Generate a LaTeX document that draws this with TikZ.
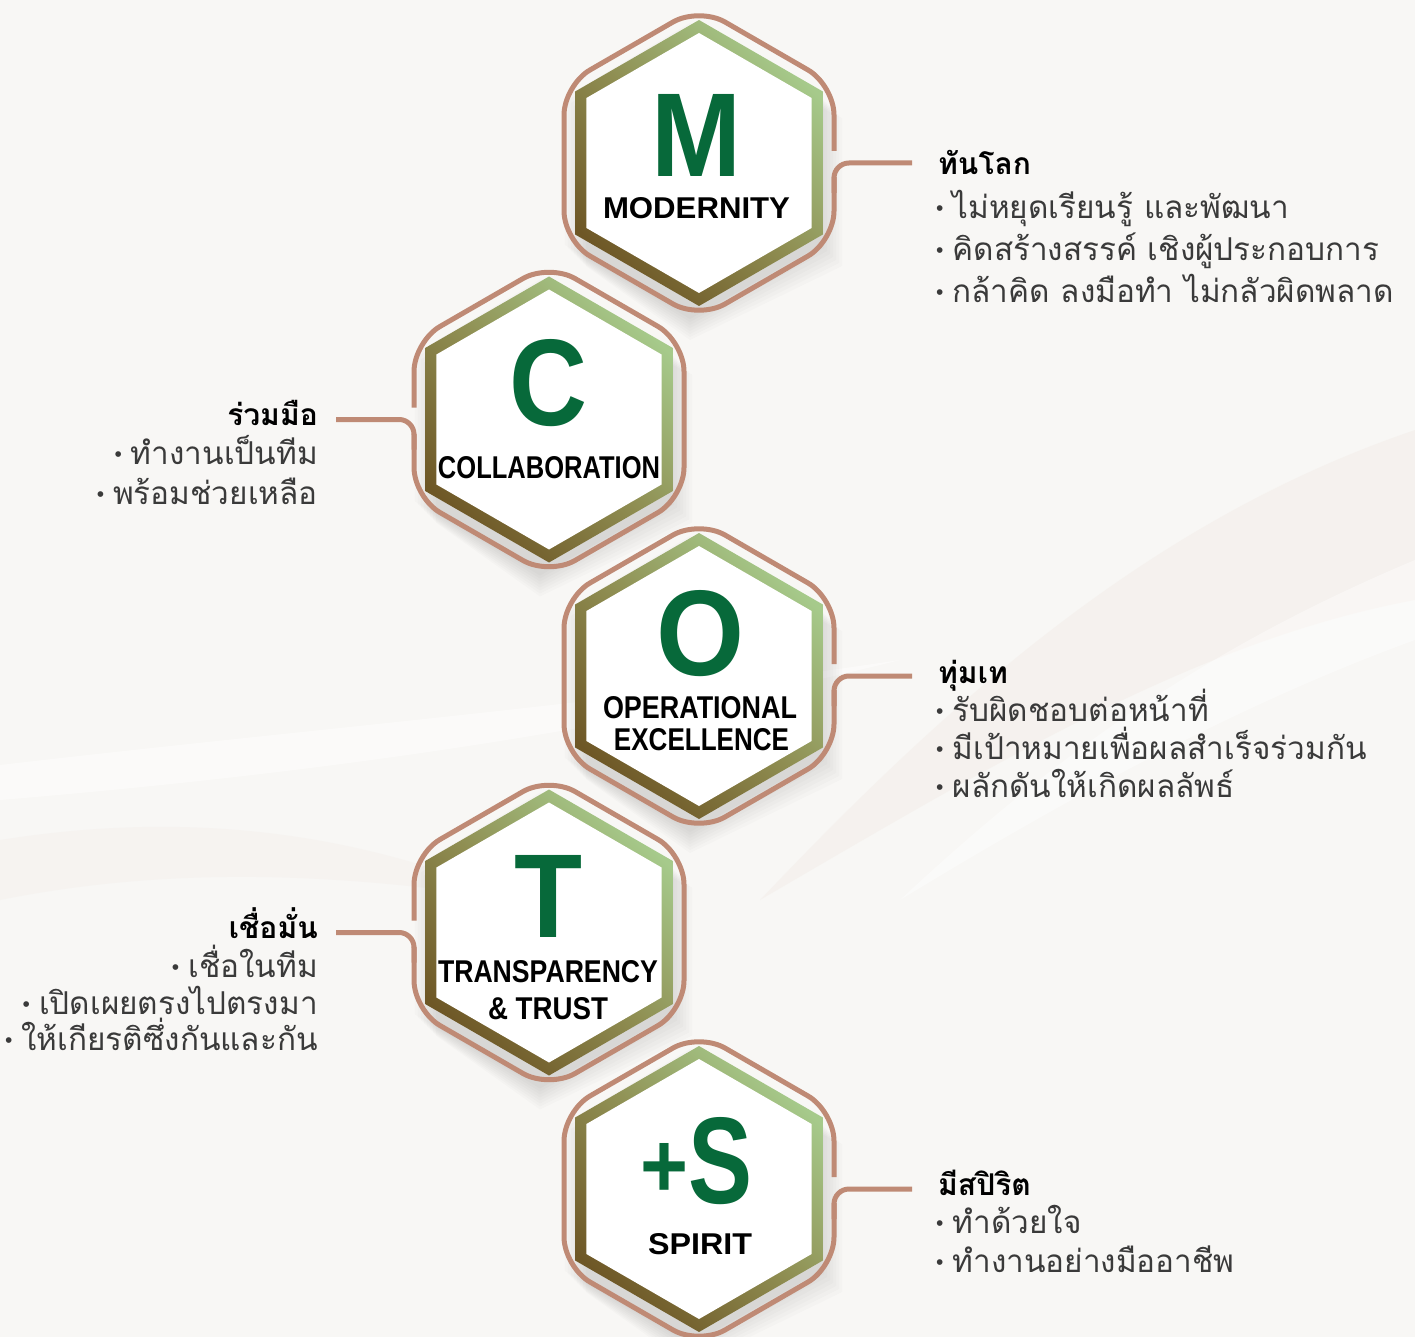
\documentclass[tikz,border=0pt]{standalone}
\usepackage{fontspec}
\usepackage{graphicx}
\newfontfamily\thai[Script=Thai]{Loma}
\newfontfamily\latin{Liberation Sans}
\definecolor{bg}{HTML}{F8F7F5}
\definecolor{brownline}{HTML}{BF8A75}
\definecolor{lgreen}{HTML}{A6CA8B}
\definecolor{midolive}{HTML}{8F8E52}
\definecolor{dolive}{HTML}{6E5726}
\definecolor{lettergreen}{HTML}{07693A}
\definecolor{itemgray}{HTML}{3A3A3A}
\definecolor{beige}{HTML}{EFE6DF}
\newcommand\hexpath[3]{(#1,#2-#3) -- (#1+0.8660254*#3,#2-0.5*#3) -- (#1+0.8660254*#3,#2+0.5*#3) -- (#1,#2+#3) -- (#1-0.8660254*#3,#2+0.5*#3) -- (#1-0.8660254*#3,#2-0.5*#3) -- cycle}
\tikzset{
  outline/.style={draw=brownline, line width=5pt, rounded corners=30pt},
  conn/.style={draw=brownline, line width=5pt, rounded corners=15pt},
  ring/.style={top color=lgreen, bottom color=dolive, middle color=midolive, shading angle=-45},
  bigletter/.style={inner sep=0pt, text=lettergreen, font=\latin\bfseries},
  hexlabel/.style={inner sep=0pt, text=black, font=\latin\bfseries},
  ttitle/.style={inner sep=0pt, text=black, font=\thai\bfseries\fontsize{30}{36}\selectfont},
  titem/.style={inner sep=0pt, text=itemgray, font=\thai\fontsize{31.5}{38}\selectfont},
}
\newcommand\shadowhex[2]{\foreach \k in {1,...,8}{\fill[black, opacity=0.014] \hexpath{#1-9}{#2+5}{148+\k*3};}}
\newcommand\ringhex[2]{\shade[ring] \hexpath{#1}{#2}{143}; \fill[white] \hexpath{#1}{#2}{130};}
\newcommand\outlineright[2]{\draw[outline] (#1+135,#2+14) -- (#1+135,#2+78) -- (#1,#2+156) -- (#1-135,#2+78) -- (#1-135,#2-78) -- (#1,#2-156) -- (#1+135,#2-78) -- (#1+135,#2-12);}
\newcommand\outlineleft[2]{\draw[outline] (#1-135,#2+14) -- (#1-135,#2+78) -- (#1,#2+156) -- (#1+135,#2+78) -- (#1+135,#2-78) -- (#1,#2-156) -- (#1-135,#2-78) -- (#1-135,#2-12);}
\newcommand\bul{{\latin\fontsize{21}{21}\selectfont\raisebox{3pt}{\textbullet}}\hspace{9pt}}
\begin{document}
\begin{tikzpicture}[x=1pt, y=-1pt]
\useasboundingbox (0,0) rectangle (1415,1337);
% background
\fill[bg] (0,0) rectangle (1415,1337);
\fill[beige, opacity=0.3] (1415,430) .. controls (1150,520) and (950,700) .. (760,900) .. controls (1000,760) and (1200,640) .. (1415,600) -- cycle;
\fill[white, opacity=0.45] (0,765) .. controls (300,730) and (600,705) .. (900,660) .. controls (600,735) and (300,775) .. (0,800) -- cycle;
\fill[beige, opacity=0.2] (0,840) .. controls (250,800) and (420,860) .. (520,900) .. controls (380,880) and (200,860) .. (0,900) -- cycle;
\fill[white, opacity=0.4] (1415,560) .. controls (1200,650) and (1050,760) .. (900,900) .. controls (1080,790) and (1250,700) .. (1415,640) -- cycle;

% hexagon centres and connector ends
\coordinate (M) at (699,163);
\coordinate (C) at (549,419.5);
\coordinate (O) at (699,676);
\coordinate (T) at (549,932.5);
\coordinate (S) at (699,1189);
\coordinate (Mend) at (912,163);
\coordinate (Cend) at (336,419.5);
\coordinate (Oend) at (912,676);
\coordinate (Tend) at (336,932.5);
\coordinate (Send) at (912,1189);

% shadows
\shadowhex{699}{163}
\shadowhex{549}{419.5}
\shadowhex{699}{676}
\shadowhex{549}{932.5}
\shadowhex{699}{1189}

% outlines and rings
\outlineright{699}{163}
\outlineleft{549}{419.5}
\outlineright{699}{676}
\outlineleft{549}{932.5}
\outlineright{699}{1189}
\ringhex{699}{163}
\ringhex{549}{419.5}
\ringhex{699}{676}
\ringhex{549}{932.5}
\ringhex{699}{1189}

% connectors
\draw[conn] (Mend) -- (M -| 834,0) -- ([yshift=-30pt]M -| 834,0);
\draw[conn] (Oend) -- (O -| 834,0) -- ([yshift=-30pt]O -| 834,0);
\draw[conn] (Send) -- (S -| 834,0) -- ([yshift=-30pt]S -| 834,0);
\draw[conn] (Cend) -- (C -| 414,0) -- ([yshift=-30pt]C -| 414,0);
\draw[conn] (Tend) -- (T -| 414,0) -- ([yshift=-30pt]T -| 414,0);

% letters
\node[bigletter, anchor=base] (Mletter) at (697,177) {\resizebox{90pt}{82pt}{M}};
\node[bigletter, anchor=base] (Cletter) at (549,425) {\resizebox{78pt}{86pt}{C}};
\node[bigletter, anchor=base] (Oletter) at (701,675) {\resizebox{88pt}{85pt}{O}};
\node[bigletter, anchor=base] (Tletter) at (549,937) {\resizebox{68pt}{82pt}{T}};
\node[bigletter, anchor=base] (Sletter) at (697,1203) {\raisebox{6pt}{\resizebox{48pt}{54pt}{+}}\resizebox{64pt}{86pt}{S}};

% hexagon labels
\node[hexlabel, anchor=base] (Mlab) at (696.5,219) {\resizebox{187pt}{21pt}{MODERNITY}};
\node[hexlabel, anchor=base] (Clab) at (549,478) {\resizebox{222pt}{22pt}{COLLABORATION}};
\node[hexlabel, anchor=base] (Olab1) at (700,718) {\resizebox{194pt}{22pt}{OPERATIONAL}};
\node[hexlabel, anchor=base] (Olab2) at (701.5,750) {\resizebox{175pt}{22pt}{EXCELLENCE}};
\node[hexlabel, anchor=base] (Tlab1) at (548,982) {\resizebox{220pt}{22pt}{TRANSPARENCY}};
\node[hexlabel, anchor=base] (Tlab2) at (548,1019) {\resizebox{120pt}{22pt}{\&\ TRUST}};
\node[hexlabel, anchor=base] (Slab) at (700,1254) {\resizebox{104pt}{21pt}{SPIRIT}};

% M texts
\node[ttitle, anchor=base west] (Mt) at (938,175) {ทันโลก};
\node[titem, anchor=base west] (Mi1) at (936,219) {\bul ไม่หยุดเรียนรู้ และพัฒนา};
\node[titem, anchor=base west] (Mi2) at (936,261) {\bul คิดสร้างสรรค์ เชิงผู้ประกอบการ};
\node[titem, anchor=base west] (Mi3) at (936,303) {\bul กล้าคิด ลงมือทำ ไม่กลัวผิดพลาด};
% C texts
\node[ttitle, anchor=base east] (Ct) at (318,425) {ร่วมมือ};
\node[titem, anchor=base east] (Ci1) at (318,464) {\bul ทำงานเป็นทีม};
\node[titem, anchor=base east] (Ci2) at (318,504) {\bul พร้อมช่วยเหลือ};
% O texts
\node[ttitle, anchor=base west] (Ot) at (938,683) {ทุ่มเท};
\node[titem, anchor=base west] (Oi1) at (936,721) {\bul รับผิดชอบต่อหน้าที่};
\node[titem, anchor=base west] (Oi2) at (936,759) {\bul มีเป้าหมายเพื่อผลสำเร็จร่วมกัน};
\node[titem, anchor=base west] (Oi3) at (936,797) {\bul ผลักดันให้เกิดผลลัพธ์};
% T texts
\node[ttitle, anchor=base east] (Tt) at (318,938) {เชื่อมั่น};
\node[titem, anchor=base east] (Ti1) at (318,977) {\bul เชื่อในทีม};
\node[titem, anchor=base east] (Ti2) at (318,1014) {\bul เปิดเผยตรงไปตรงมา};
\node[titem, anchor=base east] (Ti3) at (318,1050) {\bul ให้เกียรติซึ่งกันและกัน};
% S texts
\node[ttitle, anchor=base west] (St) at (938,1195) {มีสปิริต};
\node[titem, anchor=base west] (Si1) at (936,1233) {\bul ทำด้วยใจ};
\node[titem, anchor=base west] (Si2) at (936,1272) {\bul ทำงานอย่างมืออาชีพ};
\end{tikzpicture}
\end{document}
